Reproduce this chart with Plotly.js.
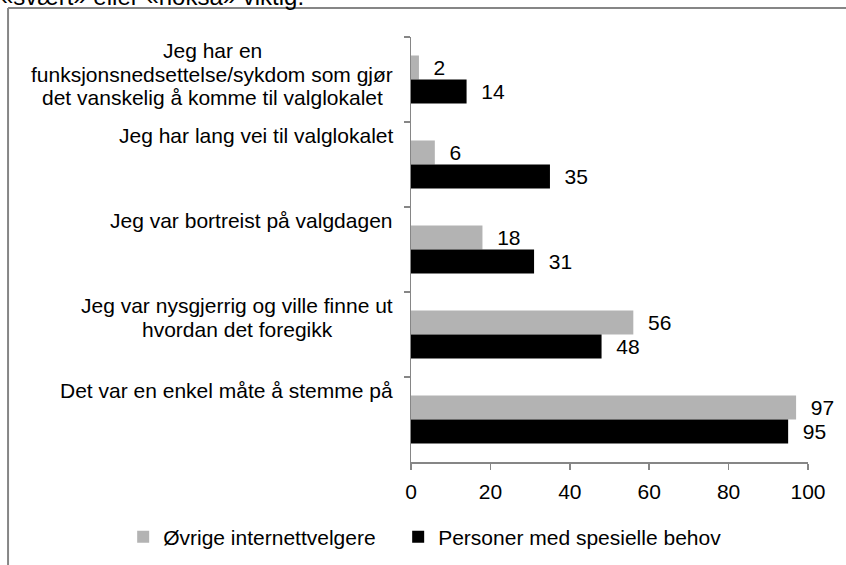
<!DOCTYPE html>
<html>
<head>
<meta charset="utf-8">
<script src="https://cdn.plot.ly/plotly-3.0.1.min.js"></script>
<style>
  html, body { margin: 0; padding: 0; background: #ffffff; }
  #chart { width: 846px; height: 565px; }
</style>
</head>
<body>
<div id="chart"></div>
<script>
// ---- Data ----
var categories = [
  "Jeg har en<br>funksjonsnedsettelse/sykdom som gjør<br>det vanskelig å komme til valglokalet",
  "Jeg har lang vei til valglokalet",
  "Jeg var bortreist på valgdagen",
  "Jeg var nysgjerrig og ville finne ut<br>hvordan det foregikk",
  "Det var en enkel måte å stemme på"
];
var seriesNames = ["Øvrige internettvelgere", "Personer med spesielle behov"];
var ovrigeValues = [2, 6, 18, 56, 97];
var spesielleValues = [14, 35, 31, 48, 95];
var xTickValues = [0, 20, 40, 60, 80, 100];
var headerText = "«svært» eller «nokså» viktig.";

// ---- Styles ----
var FONT = "Liberation Sans, Arial, sans-serif";
var FS = 21;
var LINE_H = 23.5;
var LABEL_GAP = 18;
var AXIS_GREY = "#868686";
var catKeys = categories.map(function (c, i) { return "c" + i; });

var measureCtx = document.createElement("canvas").getContext("2d");
measureCtx.font = FS + "px 'Liberation Sans', Arial, sans-serif";
function textWidth(s) { return measureCtx.measureText(s).width; }

var traces = [
  {
    type: "bar", orientation: "h", name: seriesNames[0],
    y: catKeys, x: ovrigeValues,
    marker: { color: "#b3b3b3" },
    texttemplate: "\u00a0\u00a0%{x}",
    textposition: "outside", constraintext: "none", cliponaxis: false,
    textfont: { family: FONT, size: FS, color: "#000000" },
    legendwidth: 230,
    hoverinfo: "skip"
  },
  {
    type: "bar", orientation: "h", name: seriesNames[1],
    y: catKeys, x: spesielleValues,
    marker: { color: "#000000" },
    texttemplate: "\u00a0\u00a0%{x}",
    textposition: "outside", constraintext: "none", cliponaxis: false,
    textfont: { family: FONT, size: FS, color: "#000000" },
    hoverinfo: "skip"
  }
];

// Category labels: one annotation per text line; the lines of a label are
// centred on each other, the block sits right next to the axis and hangs
// from the top of its band.
var annotations = [];
categories.forEach(function (c, i) {
  var lines = c.split("<br>");
  var blockW = Math.max.apply(null, lines.map(textWidth));
  lines.forEach(function (ln, k) {
    annotations.push({
      xref: "x", yref: "y", x: 0, y: i - 0.5,
      xanchor: "center", yanchor: "top", align: "center",
      xshift: -LABEL_GAP - blockW / 2, yshift: -k * LINE_H,
      text: ln, showarrow: false,
      font: { family: FONT, size: FS, color: "#000000" }
    });
  });
});
annotations.push({
  xref: "paper", yref: "paper", x: -1.04, y: 1.058,
  xanchor: "left", yanchor: "bottom", showarrow: false,
  text: headerText,
  font: { family: FONT, size: 24, color: "#000000" }
});

var layout = {
  width: 846, height: 565,
  margin: { l: 411, r: 38, t: 37, b: 103, pad: 0, autoexpand: false },
  paper_bgcolor: "#ffffff", plot_bgcolor: "#ffffff",
  font: { family: FONT, size: FS, color: "#000000" },
  barmode: "group", bargap: 0.435, bargroupgap: 0,
  showlegend: true,
  legend: {
    orientation: "h", x: -0.725, y: -0.1285, xanchor: "left", yanchor: "top",
    font: { family: FONT, size: FS, color: "#000000" },
    traceorder: "normal", bgcolor: "rgba(0,0,0,0)"
  },
  xaxis: {
    range: [0, 100], tickvals: xTickValues, ticktext: xTickValues.map(String),
    ticks: "outside", ticklen: 6, tickwidth: 1.5, tickcolor: AXIS_GREY,
    ticklabelstandoff: 4,
    showline: true, linecolor: AXIS_GREY, linewidth: 1.5,
    showgrid: false, zeroline: false, fixedrange: true,
    tickfont: { family: FONT, size: FS, color: "#000000" }
  },
  yaxis: {
    type: "category", categoryarray: catKeys, categoryorder: "array",
    range: [categories.length - 0.5, -0.5], autorange: false,
    showticklabels: false, ticks: "outside", tickson: "boundaries",
    ticklen: 6, tickwidth: 1.5, tickcolor: AXIS_GREY,
    showline: true, linecolor: AXIS_GREY, linewidth: 1.5,
    showgrid: false, zeroline: false, fixedrange: true
  },
  annotations: annotations,
  shapes: [
    { type: "line", xref: "paper", yref: "paper", x0: -1.015, x1: 1.2, y0: 1.068, y1: 1.068,
      line: { color: AXIS_GREY, width: 2 } },
    { type: "line", xref: "paper", yref: "paper", x0: -1.015, x1: -1.015, y0: 1.068, y1: -0.3,
      line: { color: AXIS_GREY, width: 2 } }
  ]
};

Plotly.newPlot("chart", traces, layout, { displayModeBar: false, staticPlot: true });
</script>
</body>
</html>
